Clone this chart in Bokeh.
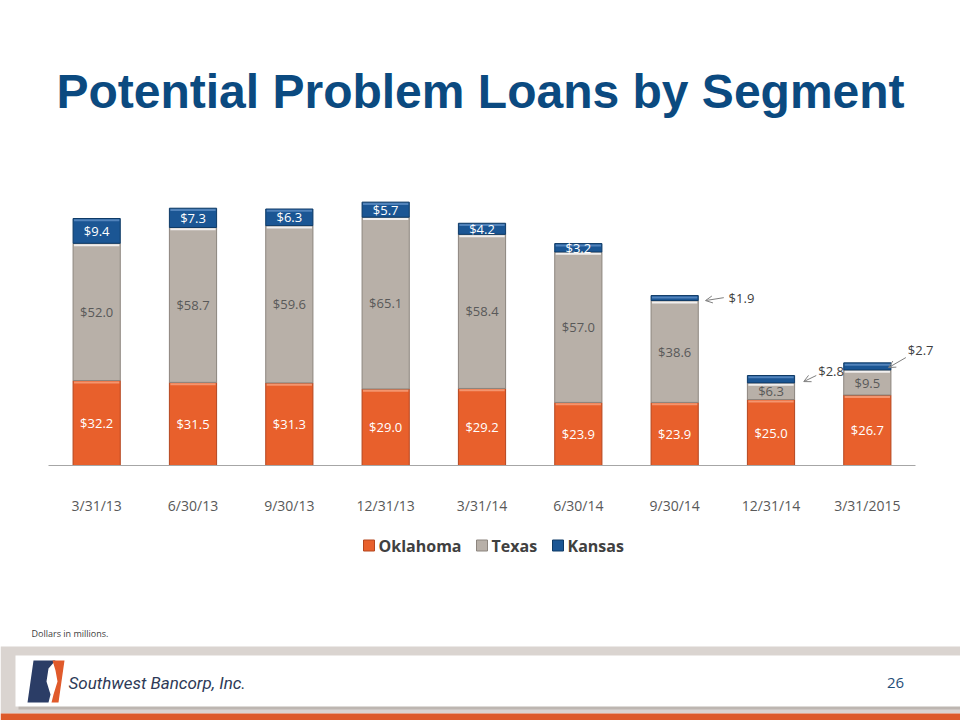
from bokeh.plotting import figure
from bokeh.models import Range1d, FixedTicker, Arrow, OpenHead, ColumnDataSource
from bokeh.layouts import column
from bokeh.embed import file_html
from bokeh.resources import INLINE
from bokeh.core.properties import value

# ---------------- data ----------------
periods = ["3/31/13", "6/30/13", "9/30/13", "12/31/13", "3/31/14",
           "6/30/14", "9/30/14", "12/31/14", "3/31/2015"]
oklahoma = [32.2, 31.5, 31.3, 29.0, 29.2, 23.9, 23.9, 25.0, 26.7]
texas = [52.0, 58.7, 59.6, 65.1, 58.4, 57.0, 38.6, 6.3, 9.5]
kansas = [9.4, 7.3, 6.3, 5.7, 4.2, 3.2, 1.9, 2.8, 2.7]
series = ["Oklahoma", "Texas", "Kansas"]

title_text = "Potential Problem Loans by Segment"
footnote = "Dollars in millions."
company = "Southwest Bancorp, Inc."
page_no = "26"

# ---------------- styles / layout ----------------
fills = ["#E8602C", "#B8B0A8", "#1B5694"]
edges = ["#B4461F", "#8C857E", "#0E3A66"]
highlights = ["#F6A37F", "#FFFFFF", "#5F8FC4"]
W = 960
FONT = "Open Sans"
H_HDR, H_CHART, H_FT = 170, 355, 195
AX_L, AX_R = 48, 915            # axis line extent in page pixels
FRAME_TOP, BASELINE = 180, 465  # chart frame in page pixels


def bare(fig):
    fig.outline_line_color = None
    fig.grid.visible = False
    return fig


# ---------------- header ----------------
hdr = bare(figure(width=W, height=H_HDR, x_range=Range1d(0, W), y_range=Range1d(H_HDR, 0),
                  toolbar_location=None, output_backend="svg", min_border=0,
                  x_axis_location=None, y_axis_location=None))
hdr.text(x=[W / 2], y=[91], text=[title_text], text_font=value("Liberation Sans"),
         text_font_style="bold", text_font_size="48px", text_color="#0B4A80",
         text_align="center", text_baseline="middle")

# ---------------- chart ----------------
n = len(periods)
xs = list(range(n))
unit = (AX_R - AX_L) / n
p = bare(figure(width=W, height=H_CHART,
                x_range=Range1d(-0.5 - AX_L / unit, -0.5 + (W - AX_L) / unit),
                y_range=Range1d(0, 108),
                toolbar_location=None, output_backend="svg", y_axis_location=None,
                min_border_left=0, min_border_right=0,
                min_border_top=FRAME_TOP - H_HDR,
                min_border_bottom=H_CHART - (BASELINE - H_HDR)))

src = ColumnDataSource(dict(x=xs, Oklahoma=oklahoma, Texas=texas, Kansas=kansas))
BW = 0.49
rs = p.vbar_stack(series, x="x", width=BW, source=src, fill_color=fills,
                  line_color=edges, line_width=1)

tops = []
cum = [0.0] * n
for vals in (oklahoma, texas, kansas):
    cum = [c + v for c, v in zip(cum, vals)]
    tops.append(list(cum))
for k in range(3):
    p.segment(x0=[x - BW / 2 + 0.01 for x in xs], x1=[x + BW / 2 - 0.01 for x in xs],
              y0=[t - 0.7 for t in tops[k]], y1=[t - 0.7 for t in tops[k]],
              line_color=highlights[k], line_width=2, line_alpha=0.8)

ok_mid = [v / 2 for v in oklahoma]
tx_mid = [o + t / 2 for o, t in zip(oklahoma, texas)]
ks_mid = [o + t + k / 2 for o, t, k in zip(oklahoma, texas, kansas)]


def fmt(v):
    return "${:.1f}".format(v)


p.text(x=xs, y=ok_mid, text=[fmt(v) for v in oklahoma], text_font=value(FONT),
       text_font_size="13px", text_color="white", text_align="center", text_baseline="middle")
p.text(x=xs, y=tx_mid, text=[fmt(v) for v in texas], text_font=value(FONT),
       text_font_size="13px", text_color="#595959", text_align="center", text_baseline="middle")

inside = [i for i in xs if kansas[i] >= 3.0]
outside = [i for i in xs if kansas[i] < 3.0]
p.text(x=[xs[i] for i in inside], y=[ks_mid[i] for i in inside],
       text=[fmt(kansas[i]) for i in inside], text_font=value(FONT),
       text_font_size="13px", text_color="white", text_align="center", text_baseline="middle")

# call-outs for thin Kansas segments (offsets from bar centre / bar total)
callout_end = [(0.32, -1.9), (0.34, -2.3), (0.22, -1.8)]
callout_start = [(0.51, -0.8), (0.47, 0.0), (0.40, 2.0)]
callout_text = [(0.56, -0.8), (0.49, 1.9), (0.42, 4.7)]
totals = tops[2]
tx_x, tx_y, tx_t = [], [], []
for j, i in enumerate(outside):
    ex, ey = i + callout_end[j][0], totals[i] + callout_end[j][1]
    bx, by = i + callout_start[j][0], totals[i] + callout_start[j][1]
    p.add_layout(Arrow(end=OpenHead(size=7, line_color="#7F7F7F", line_width=1),
                       x_start=bx, y_start=by, x_end=ex, y_end=ey,
                       line_color="#7F7F7F", line_width=1))
    tx_x.append(i + callout_text[j][0])
    tx_y.append(totals[i] + callout_text[j][1])
    tx_t.append(fmt(kansas[i]))
p.text(x=tx_x, y=tx_y, text=tx_t, text_font=value(FONT), text_font_size="13px",
       text_color="#404040", text_align="left", text_baseline="middle")

ax = p.xaxis[0]
ax.ticker = FixedTicker(ticks=xs)
ax.major_label_overrides = {i: periods[i] for i in xs}
ax.bounds = (-0.5, n - 0.5)
ax.axis_line_color = "#A6A6A6"
ax.axis_line_width = 1
ax.major_tick_line_color = None
ax.minor_tick_line_color = None
ax.major_tick_out = 0
ax.major_tick_in = 0
ax.major_label_standoff = 30
ax.major_label_text_font = FONT
ax.major_label_text_font_size = "14px"
ax.major_label_text_color = "#595959"

# ---------------- footer (legend, note, slide footer) ----------------
top_ft = H_HDR + H_CHART
ft = bare(figure(width=W, height=H_FT, x_range=Range1d(0, W), y_range=Range1d(720, top_ft),
                 toolbar_location=None, output_backend="svg", min_border=0,
                 x_axis_location=None, y_axis_location=None))

legend_x = [363, 476, 552]
LEG_Y, SW = 545, 11
ft.quad(left=legend_x, right=[x + SW for x in legend_x],
        top=[LEG_Y - SW / 2] * 3, bottom=[LEG_Y + SW / 2] * 3,
        fill_color=fills, line_color=edges, line_width=1)
ft.text(x=[x + SW + 4 for x in legend_x], y=[LEG_Y] * 3, text=series,
        text_font=value(FONT), text_font_style="bold", text_font_size="16px",
        text_color="#404040", text_align="left", text_baseline="middle")

ft.text(x=[31], y=[633], text=[footnote], text_font=value(FONT), text_font_size="9px",
        text_color="#404040", text_align="left", text_baseline="middle")

ft.quad(left=[0], right=[W], top=[646], bottom=[713], fill_color="#DAD4D0", line_color=None)
ft.quad(left=[18], right=[W], top=[705], bottom=[709], fill_color="#BDB6B1", line_color=None)
ft.quad(left=[15], right=[W], top=[655], bottom=[706], fill_color="white", line_color=None)
ft.quad(left=[0], right=[W], top=[713], bottom=[720], fill_color="#DD5A2A", line_color=None)
ft.patch(x=[33, 55, 48, 46, 50, 48, 27], y=[660, 660, 668, 681, 694, 702, 702],
         fill_color="#2B3D66", line_color=None)
ft.patch(x=[56, 64, 58, 51, 53, 57, 55, 52], y=[660, 660, 702, 702, 694, 681, 670, 660],
         fill_color="#E05A2B", line_color=None)
ft.text(x=[68], y=[682], text=[company], text_font=value("Roboto"), text_font_style="italic",
        text_font_size="17px", text_color="#2E3A57", text_align="left", text_baseline="middle")
ft.text(x=[895], y=[682], text=[page_no], text_font=value(FONT), text_font_size="15px",
        text_color="#1F4E79", text_align="center", text_baseline="middle")

layout = column(hdr, p, ft, spacing=0)
open("out.html", "w").write(file_html(layout, INLINE))
